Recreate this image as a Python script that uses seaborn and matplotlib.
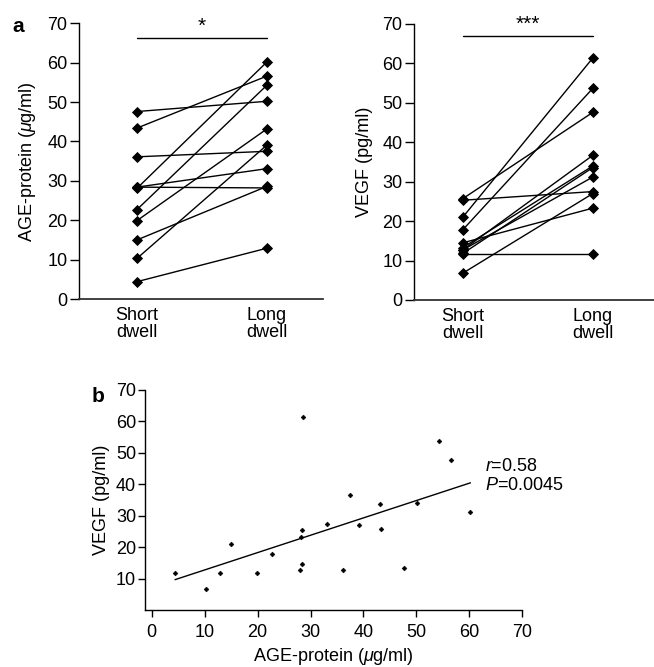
import numpy as np
import pandas as pd
import matplotlib
matplotlib.use("Agg")
import matplotlib.pyplot as plt
import seaborn as sns

sns.set_style("ticks")
plt.rcParams['font.family'] = ['Liberation Sans', 'DejaVu Sans']
plt.rcParams['mathtext.fontset'] = 'custom'
plt.rcParams['mathtext.rm'] = 'Liberation Sans'
plt.rcParams['mathtext.it'] = 'Liberation Sans:italic'
for k in ('text.color', 'axes.labelcolor', 'xtick.color', 'ytick.color', 'axes.edgecolor'):
    plt.rcParams[k] = 'black'

# ---- data (one entry per patient) ----
patients = list(range(1, 12))
age_short = [47.6, 43.4, 36.1, 28.1, 28.4, 28.4, 22.7, 19.9, 15.0, 10.3, 4.4]
age_long = [50.2, 56.6, 37.5, 60.2, 33.1, 28.2, 54.3, 43.2, 28.6, 39.1, 12.9]
vegf_short = [13.3, 25.7, 12.7, 12.7, 25.3, 14.5, 17.8, 11.8, 21.0, 6.8, 11.7]
vegf_long = [34.0, 47.6, 36.7, 31.2, 27.5, 23.3, 53.7, 33.6, 61.4, 27.0, 11.7]
dwell_labels = ["Short\ndwell", "Long\ndwell"]
y_ticks = [0, 10, 20, 30, 40, 50, 60, 70]
x_ticks_b = [0, 10, 20, 30, 40, 50, 60, 70]
y_ticks_b = [10, 20, 30, 40, 50, 60, 70]

n = len(patients)
df = pd.DataFrame({
    "patient": patients * 2,
    "dwell": [0] * n + [1] * n,
    "AGE": age_short + age_long,
    "VEGF": vegf_short + vegf_long,
})
dfb = pd.DataFrame({"AGE": age_short + age_long, "VEGF": vegf_short + vegf_long})

W, H = 654, 667
fig = plt.figure(figsize=(W / 100, H / 100), dpi=100)

def frac(x0, x1, ytop, ybot):
    return [x0 / W, 1 - ybot / H, (x1 - x0) / W, (ybot - ytop) / H]

ax1 = fig.add_axes(frac(79, 323, 23.3, 299))
ax2 = fig.add_axes(frac(414, 654, 24, 300))
ax3 = fig.add_axes(frac(145, 522.3, 390, 610))

FS = 13

def paired(ax, col, ylabel, xlim, bar_y, stars):
    sns.lineplot(data=df, x="dwell", y=col, units="patient", estimator=None,
                 color="black", lw=1.0, marker="D", markersize=5.0,
                 markeredgecolor="black", markeredgewidth=0.6, ax=ax,
                 legend=False)
    ax.set_xlim(*xlim)
    ax.set_ylim(0, 70)
    ax.set_xticks([0, 1])
    ax.set_xticklabels(dwell_labels, fontsize=FS, linespacing=0.95)
    ax.set_yticks(y_ticks)
    ax.tick_params(axis="y", length=6.7, width=1, pad=1.5, labelsize=FS)
    ax.tick_params(axis="x", length=0, pad=6)
    ax.set_xlabel("")
    ax.set_ylabel(ylabel, fontsize=FS, labelpad=7)
    for s in ("top", "right"):
        ax.spines[s].set_visible(False)
    ax.spines["left"].set_linewidth(1.0)
    ax.spines["bottom"].set_linewidth(1.3)
    ax.spines["bottom"].set_color("#333333")
    ax.plot([0, 1], [bar_y, bar_y], color="black", lw=1.0, clip_on=False)
    ax.text(0.5, bar_y + 0.6, stars, ha="center", va="bottom", fontsize=15)

paired(ax1, "AGE", r"AGE-protein ($\mu$g/ml)", (-0.446, 1.431), 66.2, "*")
paired(ax2, "VEGF", "VEGF (pg/ml)", (-0.375, 1.47), 67.0, "***")

# panel b
sns.scatterplot(data=dfb, x="AGE", y="VEGF", marker="D", s=6, color="black",
                edgecolor="black", linewidth=0.4, ax=ax3, legend=False)
sns.regplot(data=dfb, x="AGE", y="VEGF", scatter=False, ci=None, truncate=True,
            line_kws=dict(color="black", lw=1.0), ax=ax3)
ax3.set_xlim(-1.27, 70)
ax3.set_ylim(0, 70)
ax3.set_xticks(x_ticks_b)
ax3.set_yticks(y_ticks_b)
ax3.tick_params(axis="both", length=5, width=1, labelsize=FS)
ax3.tick_params(axis="y", pad=1.5)
ax3.tick_params(axis="x", pad=5)
ax3.set_xlabel(r"AGE-protein ($\mu$g/ml)", fontsize=FS, labelpad=4)
ax3.set_ylabel("VEGF (pg/ml)", fontsize=FS, labelpad=4)
for s in ("top", "right"):
    ax3.spines[s].set_visible(False)
ax3.spines["left"].set_linewidth(1.0)
ax3.spines["bottom"].set_linewidth(1.0)
ax3.text(62.9, 45.6, r"$r$=0.58", fontsize=FS, va="center", ha="left")
ax3.text(62.9, 39.5, r"$P$=0.0045", fontsize=FS, va="center", ha="left")

fig.text(18 / W, 1 - 27 / H, "a", fontsize=15, fontweight="bold", va="center", ha="center")
fig.text(98 / W, 1 - 396 / H, "b", fontsize=15, fontweight="bold", va="center", ha="center")

fig.savefig("out.png", dpi=100)
